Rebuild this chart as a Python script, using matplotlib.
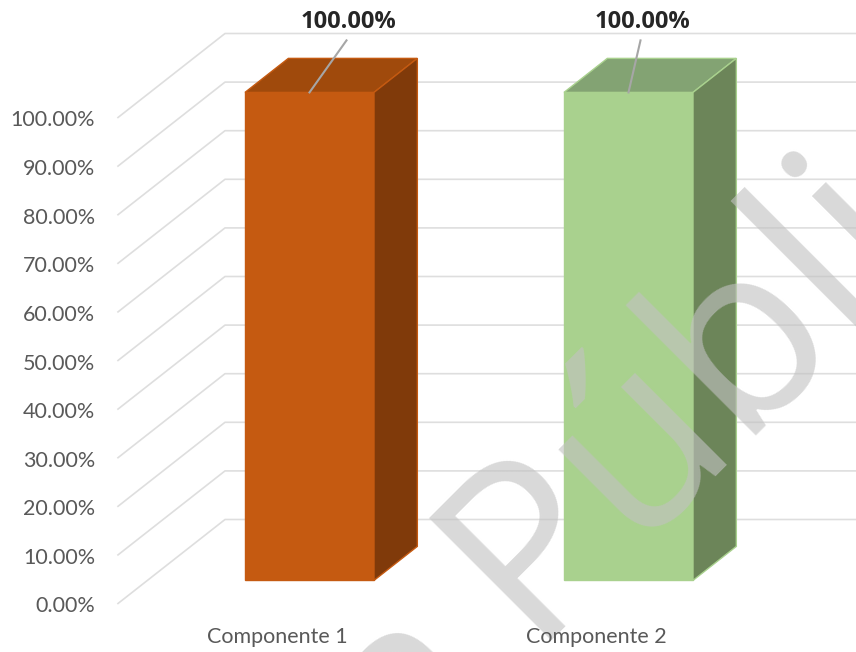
import matplotlib
matplotlib.use("Agg")
import matplotlib.pyplot as plt
from matplotlib.patches import Polygon

categories = ["Componente 1", "Componente 2"]
values = [100.0, 100.0]
value_labels = ["100.00%", "100.00%"]
ticks = [0, 10, 20, 30, 40, 50, 60, 70, 80, 90, 100]
front = ["#C55A11", "#A9D18E"]
top = ["#A04A0C", "#83A373"]
side = ["#803A0A", "#6C8559"]
edge = ["#C55A11", "#A9D18E"]
leader_dx = [37, 12]
label_dx = [67, 42]

W, H = 856, 652
PX_PER_X = 319.0   # pixels per category
PX_PER_Y = 4.86    # pixels per percent
X0_PX, Y0_PX = 281.0, 603.5  # category 0, value 0, front of the floor
DX = 107.0 / PX_PER_X
DY = 84.0 / PX_PER_Y
BAR_W = 129.0 / PX_PER_X
BAR_OFFSET = -36.0 / PX_PER_X
BAR_SCALE = 488.0 / 486.0
D_START, D_LEN = 0.275, 0.405
FONT = "Lato"

fig = plt.figure(figsize=(W / 100, H / 100), dpi=100)
ax = fig.add_axes([0, 0, 1, 1])
ax.set_xlim(-X0_PX / PX_PER_X, (W - X0_PX) / PX_PER_X)
ax.set_ylim(-(H - Y0_PX) / PX_PER_Y, Y0_PX / PX_PER_Y)
ax.axis("off")

LEFT = (118 - X0_PX) / PX_PER_X
for t in ticks:
    ax.plot([LEFT, LEFT + DX, ax.get_xlim()[1]], [t, t + DY, t + DY],
            color="#DEDEDE", lw=1.2, zorder=1)
    ax.text(LEFT - 23 / PX_PER_X, t - 3 / PX_PER_Y, f"{t:.2f}%", ha="right", va="center",
            fontsize=15.5, color="#595959", family=FONT, zorder=6)

for i, (cat, v) in enumerate(zip(categories, values)):
    xl = i + BAR_OFFSET
    xr = xl + BAR_W
    b = D_START * DY
    h = v * BAR_SCALE
    ddx, ddy = D_LEN * DX, D_LEN * DY
    ax.add_patch(Polygon([(xl, b), (xr, b), (xr, b + h), (xl, b + h)],
                         fc=front[i], ec=edge[i], lw=1, zorder=3))
    ax.add_patch(Polygon([(xl, b + h), (xr, b + h), (xr + ddx, b + h + ddy), (xl + ddx, b + h + ddy)],
                         fc=top[i], ec=edge[i], lw=1, zorder=3))
    ax.add_patch(Polygon([(xr, b), (xr + ddx, b + ddy), (xr + ddx, b + h + ddy), (xr, b + h)],
                         fc=side[i], ec=edge[i], lw=1, zorder=3))
    xc = xl + BAR_W / 2
    ax.plot([xc, xc + leader_dx[i] / PX_PER_X], [b + h, b + h + 52 / PX_PER_Y],
            color="#A6A6A6", lw=1.5, zorder=4)
    ax.text(i + label_dx[i] / PX_PER_X, 119.7, value_labels[i], ha="center", va="center",
            fontsize=17, fontweight="bold", color="#262626", family="Open Sans", zorder=6)
    ax.text(i - 4 / PX_PER_X, -6.8, cat, ha="center", va="center", fontsize=15.5,
            color="#595959", family=FONT, zorder=6)

# watermark: one word anchored at the P, the previous word ending before it
wx = (528 - X0_PX) / PX_PER_X
wy = (Y0_PX - 641) / PX_PER_Y
ax.text(wx, wy, "Pública", rotation=45, rotation_mode="anchor", ha="left", va="baseline",
        fontsize=174, color="#C2C2C2", alpha=0.62, family="Open Sans", zorder=5)
nx = (505 - X0_PX) / PX_PER_X
ny = (Y0_PX - 696) / PX_PER_Y
ax.text(nx, ny, "Versión", rotation=45, rotation_mode="anchor", ha="right", va="baseline",
        fontsize=174, color="#C2C2C2", alpha=0.62, family="Open Sans", zorder=5)

fig.savefig("out.png", dpi=100)
